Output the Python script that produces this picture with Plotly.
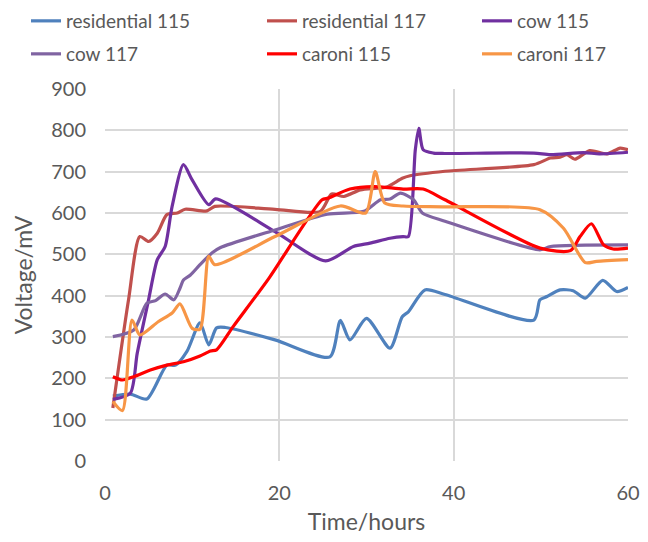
import plotly.graph_objects as go

# Time (hours) and voltage (mV) readings for each cell
res115_t = [0.9, 2.9, 4.8, 7.1, 8.1, 9.4, 10.9, 11.9, 12.8, 13.8, 19.5, 25.8, 27.0, 28.1, 30.0, 32.7, 34.1, 34.8, 36.7, 39.0, 49.2, 49.9, 50.7, 52.2, 53.7, 55.1, 57.1, 58.7, 60.0]
res115_v = [157, 162, 150, 232, 232, 265, 334, 281, 322, 323, 293, 252, 340, 293, 345, 273, 349, 361, 414, 403, 341, 390, 398, 414, 412, 394, 437, 410, 420]

res117_t = [0.9, 2.7, 4.0, 5.0, 6.0, 7.1, 8.3, 9.2, 11.7, 12.6, 19.5, 24.7, 26.0, 27.4, 29.3, 32.3, 34.1, 35.0, 39.0, 49.2, 51.1, 52.2, 53.0, 53.9, 55.6, 57.6, 59.1, 60.0]
res117_v = [128, 390, 543, 531, 551, 596, 600, 609, 605, 616, 609, 604, 646, 640, 656, 663, 684, 690, 701, 717, 733, 735, 741, 730, 751, 743, 757, 753]

cow115_t = [0.9, 2.9, 3.7, 5.0, 6.0, 6.9, 7.7, 9.0, 10.0, 11.9, 12.7, 19.5, 25.3, 28.5, 30.4, 32.7, 34.2, 34.8, 35.6, 36.0, 36.5, 37.7, 39.0, 49.2, 51.1, 54.9, 56.7, 60.0]
cow115_v = [149, 164, 261, 390, 487, 519, 616, 717, 680, 620, 634, 555, 484, 519, 527, 539, 543, 543, 753, 805, 753, 745, 744, 745, 741, 746, 743, 747]

cow117_t = [0.9, 3.3, 4.8, 5.8, 6.9, 7.9, 8.6, 9.0, 9.8, 10.9, 12.3, 13.2, 19.5, 25.5, 29.7, 31.6, 32.7, 33.9, 35.4, 36.4, 39.0, 49.9, 51.1, 60.0]
cow117_v = [301, 317, 382, 388, 404, 390, 418, 438, 450, 475, 504, 516, 559, 597, 604, 632, 634, 648, 632, 600, 580, 511, 519, 523]

car115_t = [0.9, 2.0, 3.3, 5.2, 7.1, 9.0, 10.9, 12.1, 12.8, 14.7, 18.8, 24.9, 25.6, 28.1, 30.8, 34.2, 36.5, 39.0, 49.9, 53.4, 54.5, 55.8, 57.2, 58.3, 60.0]
car115_v = [204, 196, 204, 220, 232, 240, 254, 266, 269, 325, 442, 632, 636, 658, 664, 658, 658, 632, 515, 509, 543, 574, 523, 513, 515]

car117_t = [0.9, 2.0, 3.1, 4.0, 6.1, 7.7, 8.6, 10.0, 10.9, 11.9, 12.6, 19.5, 27.0, 29.9, 31.0, 32.1, 34.2, 39.0, 49.9, 52.6, 55.1, 56.4, 60.0]
car117_v = [144, 122, 341, 305, 337, 358, 380, 321, 319, 495, 475, 543, 617, 600, 700, 624, 617, 615, 608, 563, 480, 483, 487]

names = ["residential 115", "residential 117", "cow 115", "cow 117", "caroni 115", "caroni 117"]
times = [res115_t, res117_t, cow115_t, cow117_t, car115_t, car117_t]
volts = [res115_v, res117_v, cow115_v, cow117_v, car115_v, car117_v]
colors = ["#4F81BD", "#C0504D", "#7030A0", "#8064A2", "#FF0000", "#F79646"]

x_ticks = [0, 20, 40, 60]
y_ticks = list(range(0, 901, 100))

grey = "#595959"
grid = "#D9D9D9"

# Legend laid out as a 3 x 2 grid, one small legend box per entry
col_x = [26, 262, 477]      # left edge of each legend column (px)
row_y = [2.0, 35.0]         # top edge of each legend row (px)
W, H = 648, 542

fig = go.Figure()
legends = {}
for i, (name, t, v, color) in enumerate(zip(names, times, volts, colors)):
    key = "legend" if i == 0 else f"legend{i + 1}"
    fig.add_trace(go.Scatter(
        x=t, y=v, name=name, mode="lines", legend=key,
        line=dict(color=color, width=3.2, shape="spline", smoothing=0.7),
    ))
    legends[key] = dict(
        orientation="h", xref="container", yref="container",
        x=col_x[i % 3] / W, y=1 - row_y[i // 3] / H,
        xanchor="left", yanchor="top",
        font=dict(size=19, color=grey, family="Lato, sans-serif"),
        bgcolor="rgba(0,0,0,0)",
    )

fig.update_layout(
    width=W, height=H,
    margin=dict(l=105, r=20, t=89, b=81, autoexpand=False),
    paper_bgcolor="white", plot_bgcolor="white",
    font=dict(family="Lato, Open Sans, sans-serif", size=20, color=grey),
    showlegend=True,
    xaxis=dict(
        range=[0, 60], tickvals=x_ticks, showgrid=True, gridcolor=grid,
        gridwidth=1.5, zeroline=False, showline=False,
        ticklabelstandoff=18,
        title=dict(text="Time/hours", font=dict(size=23, color=grey), standoff=10),
        tickfont=dict(size=20, color=grey), ticks="",
    ),
    yaxis=dict(
        range=[0, 900], tickvals=y_ticks, showgrid=True, gridcolor=grid,
        gridwidth=1.5, zeroline=False, showline=False,
        ticklabelstandoff=18,
        title=dict(text="Voltage/mV", font=dict(size=23, color=grey), standoff=12),
        tickfont=dict(size=20, color=grey), ticks="",
    ),
    **legends,
)

fig.write_html("out.html")
